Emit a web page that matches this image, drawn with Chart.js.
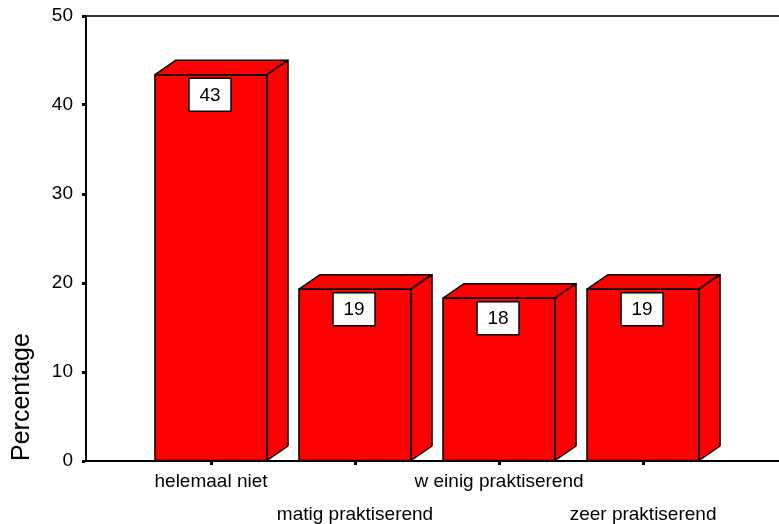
<!DOCTYPE html>
<html>
<head>
<meta charset="utf-8">
<script src="https://cdn.jsdelivr.net/npm/chart.js@4/dist/chart.umd.min.js"></script>
<style>
  html, body { margin: 0; padding: 0; background: #fff; }
  #wrap { width: 779px; height: 524px; position: relative; }
</style>
</head>
<body>
<div id="wrap"><canvas id="c"></canvas></div>
<script>
// ---- data ----
const categories = ["helemaal niet", "matig praktiserend", "w einig praktiserend", "zeer praktiserend"];
const percentages = [43.4, 19.3, 18.3, 19.3];
const valueLabels = ["43", "19", "18", "19"];
const yTicks = [0, 10, 20, 30, 40, 50];
const yTitle = "Percentage";

const FONT = "'Liberation Sans', Arial, Helvetica, sans-serif";
const DX = 21, DY = 14.5;

const bar3d = {
  id: 'bar3d',
  beforeDatasetsDraw(chart) {
    const {ctx, chartArea} = chart;
    ctx.save();
    ctx.strokeStyle = '#333';
    ctx.lineWidth = 2;
    ctx.beginPath();
    ctx.moveTo(chartArea.left, chartArea.top);
    ctx.lineTo(chartArea.right + 2, chartArea.top);
    ctx.stroke();
    ctx.restore();
  },
  afterDatasetsDraw(chart) {
    const {ctx} = chart;
    const meta = chart.getDatasetMeta(0);
    ctx.save();
    ctx.lineJoin = 'round';
    meta.data.forEach((el, i) => {
      const p = el.getProps(['x', 'y', 'base', 'width'], true);
      const l = p.x - p.width / 2, r = p.x + p.width / 2, t = p.y, b = p.base;
      ctx.fillStyle = '#ff0000';
      ctx.strokeStyle = '#000';
      ctx.lineWidth = 1.5;
      // top face
      ctx.beginPath();
      ctx.moveTo(l, t); ctx.lineTo(l + DX, t - DY); ctx.lineTo(r + DX, t - DY); ctx.lineTo(r, t); ctx.closePath();
      ctx.fill(); ctx.stroke();
      // side face
      ctx.beginPath();
      ctx.moveTo(r, t); ctx.lineTo(r + DX, t - DY); ctx.lineTo(r + DX, b - DY); ctx.lineTo(r, b); ctx.closePath();
      ctx.fill(); ctx.stroke();
      // front outline
      ctx.strokeRect(l, t, r - l, b - t);
      // value box
      const bw = 42, bh = 33;
      const bx = p.x - 1 - bw / 2, by = t + 3.5;
      ctx.fillStyle = '#fff';
      ctx.fillRect(bx, by, bw, bh);
      ctx.lineWidth = 1.5;
      ctx.strokeRect(bx, by, bw, bh);
      ctx.fillStyle = '#000';
      ctx.font = '19px ' + FONT;
      ctx.textAlign = 'center';
      ctx.textBaseline = 'middle';
      ctx.fillText(valueLabels[i], bx + bw / 2, by + bh / 2 + 1);
    });
    ctx.restore();
  }
};

new Chart(document.getElementById('c'), {
  type: 'bar',
  data: {
    datasets: [{
      data: percentages.map((v, i) => ({x: i, y: v})),
      backgroundColor: '#ff0000',
      borderColor: '#000',
      borderWidth: 0,
      barThickness: 112
    }]
  },
  options: {
    responsive: true,
    maintainAspectRatio: false,
    animation: false,
    layout: { padding: { top: 16, right: 0, left: 0, bottom: 0 } },
    plugins: { legend: { display: false }, tooltip: { enabled: false } },
    scales: {
      x: {
        type: 'linear',
        offset: false,
        min: -0.868,
        max: 3.944,
        afterBuildTicks(scale) { scale.ticks = categories.map((c, i) => ({value: i})); },
        afterFit(scale) { scale.height = 63; scale.paddingRight = 0; scale.paddingLeft = 0; },
        grid: { offset: false, drawOnChartArea: false, drawTicks: true, tickLength: 4, tickWidth: 3, tickColor: '#000' },
        border: { display: true, color: '#000', width: 2 },
        ticks: {
          autoSkip: false,
          maxRotation: 0,
          minRotation: 0,
          padding: 0,
          color: '#000',
          font: { family: FONT, size: 19, lineHeight: 1.75 },
          callback(value, index) {
            const lbl = categories[index];
            return index % 2 === 1 ? ['', lbl] : lbl;
          }
        }
      },
      y: {
        min: 0,
        max: 50,
        afterBuildTicks(scale) { scale.ticks = yTicks.map(v => ({value: v})); },
        afterFit(scale) { scale.width = 86; scale.paddingTop = 0; scale.paddingBottom = 0; },
        grid: { drawOnChartArea: false, drawTicks: true, tickLength: 4, tickWidth: 3, tickColor: '#000' },
        border: { display: true, color: '#000', width: 2 },
        ticks: { padding: 9, color: '#000', font: { family: FONT, size: 19 } },
        title: {
          display: true,
          text: yTitle,
          align: 'start',
          color: '#000',
          font: { family: FONT, size: 25 },
          padding: { top: 7, bottom: 0 }
        }
      }
    }
  },
  plugins: [bar3d]
});
</script>
</body>
</html>
